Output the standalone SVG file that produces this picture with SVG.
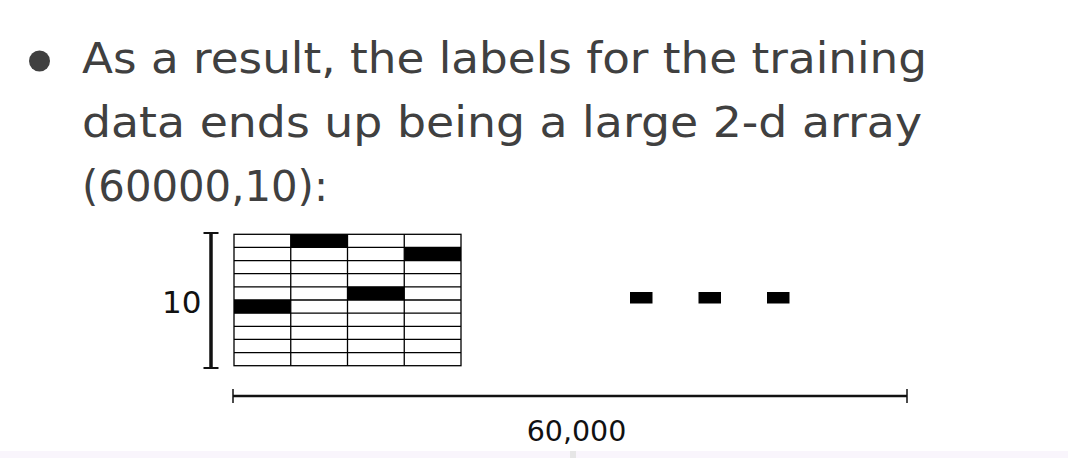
<svg xmlns="http://www.w3.org/2000/svg" width="1068" height="458" viewBox="0 0 1068 458">
  <style>
    .body { font-family: "DejaVu Sans", "Noto Sans", sans-serif; font-size: 43px; fill: #404040; }
    .lab { font-family: "DejaVu Sans", sans-serif; fill: #111111; }
    .grid { stroke: #000000; stroke-width: 1.3; fill: none; }
    .cell { fill: #000000; }
    .dim { stroke: #111111; fill: none; }
  </style>
  <rect x="0" y="0" width="1068" height="458" fill="#ffffff"/>
  <rect x="0" y="451" width="1068" height="7" fill="#f9f5fc"/>
  <rect x="570" y="451" width="6" height="7" fill="#e6e6e6"/>

  <g id="bullet-text">
    <circle cx="39.5" cy="61" r="10.5" fill="#404040"/>
    <text class="body" x="82" y="73" textLength="845" lengthAdjust="spacingAndGlyphs">As a result, the labels for the training</text>
    <text class="body" x="82" y="137" textLength="840" lengthAdjust="spacingAndGlyphs">data ends up being a large 2-d array</text>
    <text class="body" x="82" y="201" textLength="246" lengthAdjust="spacingAndGlyphs">(60000,10):</text>
  </g>

  <g id="array-grid">
    <rect class="cell" x="290.75" y="234.3" width="56.75" height="13.14"/>
    <rect class="cell" x="404.25" y="247.44" width="56.75" height="13.14"/>
    <rect class="cell" x="347.5" y="286.86" width="56.75" height="13.14"/>
    <rect class="cell" x="234" y="300" width="56.75" height="13.14"/>
    <rect class="grid" x="234" y="234.3" width="227" height="131.4"/>
    <path class="grid" d="M290.75 234.3V365.7M347.5 234.3V365.7M404.25 234.3V365.7
      M234 247.44H461M234 260.58H461M234 273.72H461M234 286.86H461M234 300H461
      M234 313.14H461M234 326.28H461M234 339.42H461M234 352.56H461"/>
  </g>

  <g id="dots">
    <rect class="cell" x="630" y="292" width="22.5" height="11.5"/>
    <rect class="cell" x="698.5" y="292" width="22.5" height="11.5"/>
    <rect class="cell" x="767" y="292" width="22.5" height="11.5"/>
  </g>

  <g id="connectors">
    <path class="dim" stroke-width="3.5" d="M211 233V368"/>
    <path class="dim" stroke-width="2" d="M203.5 233H218.5M203.5 368H218.5"/>
    <path class="dim" stroke-width="2.7" d="M233 396H907"/>
    <path class="dim" stroke-width="1.5" d="M233 389V403M907 389V403"/>
  </g>

  <g id="dim-labels">
    <text class="lab" x="162" y="312.5" font-size="31">10</text>
    <text class="lab" x="576.5" y="441" font-size="28.5" text-anchor="middle">60,000</text>
  </g>
</svg>
